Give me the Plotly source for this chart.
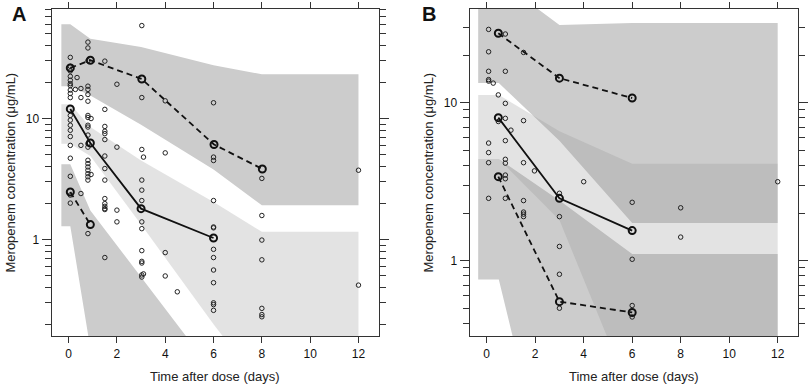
import plotly.graph_objects as go

# ---------------- Panel A data ----------------
a_obs_time = ([0.07] * 20 + [0.35, 0.28, 0.51, 0.51, 0.51, 0.51] + [0.8] * 22 + [0.93, 0.93]
              + [1.5] * 15 + [2.0] * 4 + [3.03] * 13 + [3.1, 3.1] + [4.0] * 4 + [4.5]
              + [6.0] * 13 + [8.0] * 7 + [12.0] * 2)
a_obs_conc = ([32, 27, 24.7, 22.3, 20.7, 19.4, 18.7, 17.2, 16.1, 14.9, 10.6, 9.7, 8.8, 8.0, 7.1, 6.0, 4.7, 3.33, 2.33, 2.0]
              + [21.8, 17.4, 17.7, 14.9, 6.0, 2.4]
              + [42.8, 38.3, 30.0, 18.5, 17.4, 15.8, 13.9, 10.6, 10.2, 8.8, 8.5, 7.3, 6.2, 5.8, 4.52, 4.24, 3.98, 3.74, 3.5, 3.3, 3.1, 1.12]
              + [10.0, 3.45]
              + [29.8, 11.9, 8.6, 7.85, 7.5, 6.7, 4.9, 3.86, 3.1, 2.18, 1.98, 1.88, 1.8, 1.77, 0.71]
              + [19.2, 5.8, 1.75, 1.4]
              + [58.6, 14.9, 5.55, 3.1, 2.56, 2.1, 1.4, 1.23, 0.81, 0.66, 0.64, 0.51, 0.49]
              + [4.8, 0.52]
              + [14.0, 5.2, 0.78, 0.5] + [0.37]
              + [13.5, 4.8, 4.5, 2.1, 1.27, 1.25, 0.83, 0.71, 0.56, 0.44, 0.30, 0.29, 0.26]
              + [3.2, 1.58, 0.99, 0.68, 0.27, 0.24, 0.23]
              + [3.74, 0.42])

a_hi_time = [0.07, 0.9, 3.03, 6.02, 8.02]
a_hi_conc = [26.2, 30.3, 21.2, 6.1, 3.83]
a_med_time = [0.07, 0.9, 3.0, 6.0]
a_med_conc = [12.0, 6.28, 1.80, 1.03]
a_lo_time = [0.07, 0.9]
a_lo_conc = [2.47, 1.33]

a_band_time = [-0.3, 0.07, 0.9, 3, 6, 8, 12]
a_up_top = [60, 60, 45.7, 39, 27.5, 23.2, 23.2]
a_up_bot = [18.5, 18.5, 15.5, 8.9, 3.8, 1.92, 1.92]
a_md_top = [13.1, 13.1, 8.5, 4.5, 2.04, 1.16, 1.16]
a_md_bot = [6.2, 6.2, 4.9, 1.33, 0.2, 0.06, 0.06]
a_lw_top = [4.19, 4.19, 1.74, 0.49, 0.08, 0.03, 0.03]
a_lw_bot = [1.29, 1.29, 0.126, 0.02, 0.01, 0.01, 0.01]

# ---------------- Panel B data ----------------
b_obs_time = ([0.08] * 9 + [0.27] + [0.48] * 2 + [0.77] * 10 + [1.0] + [1.52] * 7 + [1.97]
              + [3.0] * 5 + [4.0] + [6.0] * 4 + [8.0] * 2 + [12.0])
b_obs_conc = ([29.1, 21.0, 15.8, 14.0, 13.7, 5.55, 4.83, 4.17, 2.48]
              + [13.3] + [11.2, 7.6]
              + [27.2, 15.8, 9.9, 7.96, 5.75, 4.38, 4.14, 3.48, 3.3, 2.48]
              + [6.7]
              + [20.8, 7.7, 4.17, 2.4, 2.03, 1.97, 1.9]
              + [3.7]
              + [2.67, 1.9, 1.23, 0.82, 0.5]
              + [3.16]
              + [2.34, 1.02, 0.52, 0.44]
              + [2.16, 1.41]
              + [3.16])

b_hi_time = [0.48, 3.0, 6.0]
b_hi_conc = [27.5, 14.3, 10.7]
b_med_time = [0.48, 3.0, 6.0]
b_med_conc = [8.04, 2.48, 1.55]
b_lo_time = [0.48, 3.0, 6.0]
b_lo_conc = [3.4, 0.55, 0.47]

b_band_time = [-0.35, 0.5, 3, 6, 12]
b_up_top = [60, 60, 31, 32, 32]
b_up_bot = [13.3, 13.3, 5.75, 1.73, 1.73]
b_md_top = [11.2, 11.2, 6.6, 4.1, 4.1]
b_md_bot = [4.4, 4.4, 1.81, 0.135, 0.135]
b_lw_top = [4.4, 4.4, 2.4, 1.10, 1.10]
b_lw_bot = [0.76, 0.76, 0.02, 0.01, 0.01]

x_ticks = [0, 2, 4, 6, 8, 10, 12]

FONT = "Liberation Sans, Arial, sans-serif"
OUTER = "#cccccc"
MID = "rgba(145,145,145,0.255)"
AX = "#333333"

fig = go.Figure()


def band(t, top, bot, color, xa, ya):
    fig.add_trace(go.Scatter(
        x=list(t) + list(t)[::-1], y=list(top) + list(bot)[::-1],
        fill="toself", fillcolor=color, mode="lines", line=dict(width=0),
        hoverinfo="skip", showlegend=False, xaxis=xa, yaxis=ya))


def panel(bt, ut, ub, mt, mb, lt, lb, ot, oc, ht, hc, mdt, mdc, lot, loc, xa, ya):
    band(bt, ut, ub, OUTER, xa, ya)
    band(bt, lt, lb, OUTER, xa, ya)
    band(bt, mt, mb, MID, xa, ya)
    fig.add_trace(go.Scatter(x=ot, y=oc, mode="markers",
                             marker=dict(symbol="circle-open", size=4.5, color="#222", line=dict(width=1)),
                             showlegend=False, xaxis=xa, yaxis=ya))
    for t, c, dash in [(ht, hc, "6px,4px"), (mdt, mdc, "solid"), (lot, loc, "6px,4px")]:
        fig.add_trace(go.Scatter(x=t, y=c, mode="lines+markers",
                                 line=dict(color="#111", width=1.8, dash=dash),
                                 marker=dict(symbol="circle-open", size=7, color="#111", line=dict(width=2)),
                                 showlegend=False, xaxis=xa, yaxis=ya))


panel(a_band_time, a_up_top, a_up_bot, a_md_top, a_md_bot, a_lw_top, a_lw_bot,
      a_obs_time, a_obs_conc, a_hi_time, a_hi_conc, a_med_time, a_med_conc, a_lo_time, a_lo_conc, "x", "y")
panel(b_band_time, b_up_top, b_up_bot, b_md_top, b_md_bot, b_lw_top, b_lw_bot,
      b_obs_time, b_obs_conc, b_hi_time, b_hi_conc, b_med_time, b_med_conc, b_lo_time, b_lo_conc, "x2", "y2")

xcommon = dict(range=[-0.7, 12.85], tickvals=x_ticks, ticks="outside", ticklen=6, tickwidth=1.2,
               tickcolor=AX, showline=True, linecolor=AX, linewidth=1.3, mirror="ticks",
               showgrid=False, zeroline=False, tickfont=dict(family=FONT, size=12, color="#111"))
ycommon = dict(type="log", tickvals=[1, 10], ticktext=["1", "10"], ticks="outside", ticklen=9,
               tickwidth=1.2, tickcolor=AX, showline=True, linecolor=AX, linewidth=1.3,
               mirror="ticks", showgrid=False, zeroline=False,
               tickfont=dict(family=FONT, size=12, color="#111"))

ydom = [1 - 336 / 386, 1 - 9 / 386]
fig.update_layout(
    width=809, height=386, margin=dict(l=0, r=0, t=0, b=0),
    paper_bgcolor="white", plot_bgcolor="white", showlegend=False,
    xaxis=dict(domain=[51.7 / 809, 379 / 809], anchor="y", **xcommon),
    xaxis2=dict(domain=[469.7 / 809, 798.3 / 809], anchor="y2", **xcommon),
    yaxis=dict(domain=ydom, anchor="x", range=[-0.797, 1.905],
               minor=dict(tickmode="array", tickvals=[0.2, 0.3, 0.4, 0.5, 0.6, 0.7, 0.8, 0.9,
                                                      2, 3, 4, 5, 6, 7, 8, 9, 20, 30, 40, 50, 60, 70, 80],
                          ticks="outside", ticklen=6, tickcolor=AX, tickwidth=1.2),
               **ycommon),
    yaxis2=dict(domain=ydom, anchor="x2", range=[-0.477, 1.593],
                minor=dict(tickmode="array", tickvals=[0.4, 0.5, 0.6, 0.7, 0.8, 0.9,
                                                       2, 3, 4, 5, 6, 7, 8, 9, 20, 30],
                           ticks="outside", ticklen=6, tickcolor=AX, tickwidth=1.2),
                **ycommon),
)

ann = [
    dict(text="<b>A</b>", x=19.3 / 809, y=1 - 13.7 / 386, font=dict(size=20, family=FONT, color="#111")),
    dict(text="<b>B</b>", x=429.3 / 809, y=1 - 14 / 386, font=dict(size=20, family=FONT, color="#111")),
    dict(text="Meropenem concentration (μg/mL)", x=10 / 809, y=1 - 172.5 / 386, textangle=-90,
         font=dict(size=13, family=FONT, color="#222")),
    dict(text="Meropenem concentration (μg/mL)", x=428 / 809, y=1 - 172.5 / 386, textangle=-90,
         font=dict(size=13, family=FONT, color="#222")),
    dict(text="Time after dose (days)", x=215.3 / 809, y=1 - 376 / 386,
         font=dict(size=13, family=FONT, color="#222")),
    dict(text="Time after dose (days)", x=634 / 809, y=1 - 376 / 386,
         font=dict(size=13, family=FONT, color="#222")),
]
for a in ann:
    fig.add_annotation(xref="paper", yref="paper", showarrow=False, xanchor="center", yanchor="middle", **a)

fig.write_html("out.html", config={"displayModeBar": False},
               post_script="document.body.style.margin='0';document.body.style.overflow='hidden';")
